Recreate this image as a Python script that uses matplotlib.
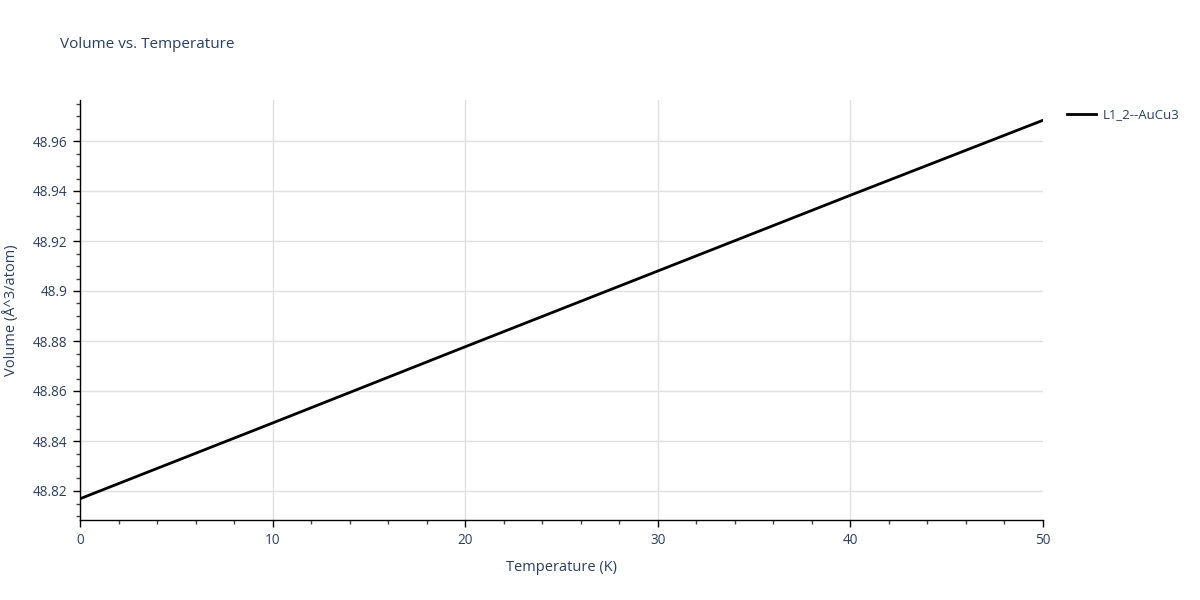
import matplotlib.pyplot as plt
from matplotlib.ticker import MultipleLocator, FuncFormatter

plt.rcParams["font.family"] = ["Open Sans", "DejaVu Sans"]

# data
temperature = [0, 10, 20, 30, 40, 50]
volume = [48.8169, 48.8472, 48.8777, 48.9080, 48.9383, 48.9683]
series_name = "L1_2--AuCu3"

text_col = "#2a3f5f"
grid_col = "#e0e0e0"

fig = plt.figure(figsize=(12, 6), dpi=100)
ax = fig.add_axes([80 / 1200, 1 - 520 / 600, (1043 - 80) / 1200, 420 / 600])

ax.plot(temperature, volume, color="black", linewidth=2, label=series_name)

ax.set_xlim(0, 50)
ax.set_ylim(48.8084, 48.9764)

ax.xaxis.set_major_locator(MultipleLocator(10))
ax.xaxis.set_minor_locator(MultipleLocator(2))
ax.yaxis.set_major_locator(MultipleLocator(0.02))
ax.yaxis.set_minor_locator(MultipleLocator(0.005))
ax.yaxis.set_major_formatter(FuncFormatter(lambda v, p: f"{v:.2f}".rstrip("0")))

# gridlines only inside, skip the one on the right edge
ax.grid(True, which="major", color=grid_col, linewidth=1)
for gl, v in zip(ax.get_xgridlines(), ax.get_xticks()):
    if v >= 50:
        gl.set_visible(False)
ax.set_axisbelow(True)
for s in ("top", "right"):
    ax.spines[s].set_visible(False)
for s in ("left", "bottom"):
    ax.spines[s].set_color("black")
    ax.spines[s].set_linewidth(1)

ax.tick_params(which="major", direction="out", length=5, width=1, color="black",
               labelsize=9.8, labelcolor=text_col, pad=4)
ax.tick_params(which="minor", direction="out", length=3, width=1, color="#444444")

ax.set_xlabel("Temperature (K)", fontsize=10.5, color=text_col, labelpad=9)
ax.set_ylabel("Volume (Å^3/atom)", fontsize=10.5, color=text_col, labelpad=10)

fig.text(60 / 1200, 1 - 45 / 600, "Volume vs. Temperature", fontsize=11,
         color=text_col, va="center", ha="left")

leg = ax.legend(loc="upper left", bbox_to_anchor=(1.013, 1.008), frameon=False,
                fontsize=9.5, handlelength=2.2, handletextpad=0.5)
for t in leg.get_texts():
    t.set_color(text_col)

fig.savefig("out.png", dpi=100)
